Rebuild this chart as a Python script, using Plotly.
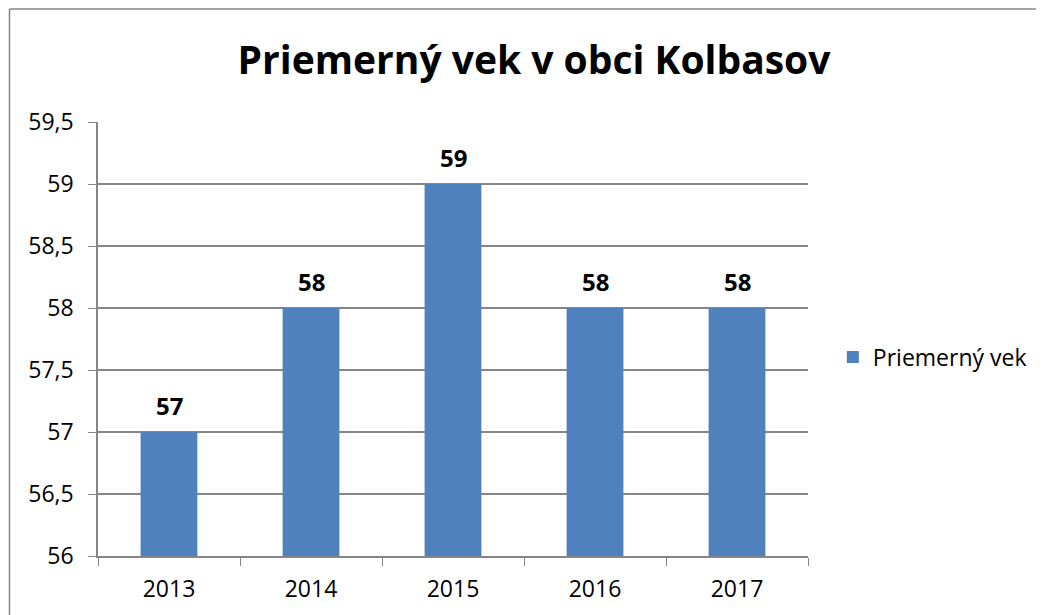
import plotly.graph_objects as go

years = ["2013", "2014", "2015", "2016", "2017"]
avg_age = [57, 58, 59, 58, 58]
series_name = "Priemerný vek"
title_text = "Priemerný vek v obci Kolbasov"

FONT = "Open Sans, sans-serif"
W, H = 1036, 607
L, R, T, B = 90, 232, 114, 59
pw, ph = W - L - R, H - T - B
GRAY = "#868686"

fig = go.Figure()
fig.add_trace(go.Bar(
    x=years, y=avg_age, name=series_name,
    marker=dict(color="#4F81BD", line=dict(width=0)),
    showlegend=True,
))

for i, v in enumerate(avg_age):
    fig.add_annotation(
        x=i, y=v, text="<b>%d</b>" % v, showarrow=False,
        yanchor="bottom", yshift=8,
        font=dict(family=FONT, size=24, color="#000000"),
    )

bx = (1 - L) / pw
by = 1 + (T - 1) / ph
fig.update_layout(
    width=W, height=H,
    margin=dict(l=L, r=R, t=T, b=B),
    paper_bgcolor="white", plot_bgcolor="white",
    separators=", ",
    bargap=0.6,
    font=dict(family=FONT, size=23, color="#000000"),
    title=dict(text="<b>" + title_text + "</b>", x=526 / W, xanchor="center",
               y=1 - 52 / H, yanchor="middle",
               font=dict(family=FONT, size=39, color="#000000")),
    showlegend=True,
    legend=dict(x=(829 - L) / pw, y=1 - (349 - T) / ph, xanchor="left", yanchor="middle",
                font=dict(family=FONT, size=23, color="#000000"),
                bgcolor="rgba(0,0,0,0)"),
    xaxis=dict(
        type="category", showgrid=False, range=[-0.5, 4.5],
        showline=True, linecolor=GRAY, linewidth=1.5,
        ticks="outside", tickson="boundaries", ticklen=8, tickcolor=GRAY,
        ticklabelstandoff=12,
        tickfont=dict(family=FONT, size=23), mirror=False,
    ),
    yaxis=dict(
        range=[56, 59.5], dtick=0.5, tick0=56,
        showgrid=True, gridcolor=GRAY, gridwidth=1.5,
        showline=True, linecolor=GRAY, linewidth=1.5,
        ticks="outside", ticklen=8, tickcolor=GRAY,
        ticklabelstandoff=10,
        tickfont=dict(family=FONT, size=23), zeroline=False,
    ),
    shapes=[
        dict(type="line", xref="paper", yref="paper",
             x0=bx, x1=(W + 50 - L) / pw, y0=by, y1=by,
             line=dict(color=GRAY, width=1.5), layer="above"),
        dict(type="line", xref="paper", yref="paper",
             x0=bx, x1=bx, y0=by, y1=-(H + 50 - (H - B)) / ph,
             line=dict(color=GRAY, width=1.5), layer="above"),
    ],
)

fig.write_html("out.html")
